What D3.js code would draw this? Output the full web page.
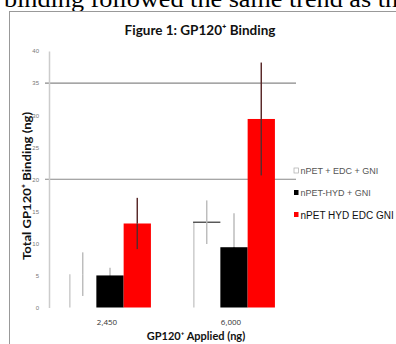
<!DOCTYPE html>
<html><head><meta charset="utf-8">
<script src="https://cdn.jsdelivr.net/npm/d3@7"></script>
<style>body{margin:0;background:#fff;overflow:hidden}svg{display:block}</style>
</head><body>
<svg id="c" width="396" height="344"></svg>
<script>
const categories = ["2,450", "6,000"];
const seriesNames = ["nPET + EDC + GNI", "nPET-HYD + GNI", "nPET HYD EDC GNI"];
const whiteVals = [5.2, 13.3];
const blackVals = [5.0, 9.4];
const redVals = [13.1, 29.4];
const whiteErr = [3.4, 3.4];
const blackErr = [1.2, 5.3];
const redErr = [4.0, 8.8];
const yTicks = [0, 5, 10, 15, 20, 25, 30, 35, 40];
const gridTicks = [20, 35];

const colors = ["#ffffff", "#000000", "#ff0000"];
const vals = [whiteVals, blackVals, redVals];
const errs = [whiteErr, blackErr, redErr];

const svg = d3.select("#c");
// cut-off text line from the page above the figure
svg.append("text").attr("x", 4).attr("y", 6.5)
  .attr("font-family", "Liberation Serif").attr("font-size", 24)
  .attr("textLength", 394).attr("lengthAdjust", "spacingAndGlyphs")
  .attr("fill", "#000").text("binding followed the same trend as th");
// figure border
svg.append("line").attr("x1", 9).attr("x2", 396).attr("y1", 11.5).attr("y2", 11.5).attr("stroke", "#999");
svg.append("line").attr("x1", 9.5).attr("x2", 9.5).attr("y1", 11).attr("y2", 344).attr("stroke", "#999");

svg.append("text").attr("x", 200).attr("y", 34.5).attr("text-anchor", "middle")
  .attr("font-family", "Lato").attr("font-weight", "bold").attr("font-size", 13.5)
  .attr("fill", "#111").text("Figure 1: GP120\u207A Binding");

const y = d3.scaleLinear().domain([0, 40]).range([307.5, 51]);
const x0 = d3.scaleBand().domain(categories).range([48, 296]).paddingInner(0.34).paddingOuter(0.17);
const x1 = d3.scaleBand().domain(d3.range(3)).range([0, x0.bandwidth()]);

// grid
svg.append("g").selectAll("line").data(gridTicks).join("line")
  .attr("x1", 45).attr("x2", 296).attr("y1", d => y(d)).attr("y2", d => y(d))
  .attr("stroke", "#888").attr("stroke-width", 1.2);

// y axis
const ya = svg.append("g").attr("transform", "translate(49,0)")
  .call(d3.axisLeft(y).tickValues(yTicks).tickSize(0).tickPadding(10));
ya.select(".domain").attr("stroke", "#ccc").attr("stroke-width", 1.5);
ya.selectAll("text").attr("font-family", "Liberation Sans").attr("font-size", 6).attr("fill", "#777");

// x axis labels
const xa = svg.append("g").attr("transform", "translate(0,307.5)")
  .call(d3.axisBottom(x0).tickSize(0).tickPadding(12));
xa.select(".domain").remove();
xa.selectAll("text").attr("font-family", "Open Sans").attr("font-size", 8).attr("fill", "#333").attr("dx", -3);

// bars
const groups = svg.append("g").selectAll("g").data(categories).join("g")
  .attr("transform", d => `translate(${x0(d)},0)`);
groups.each(function(cat, ci) {
  const g = d3.select(this);
  [0, 1, 2].forEach(si => {
    const v = vals[si][ci];
    g.append("rect").attr("x", x1(si)).attr("width", x1.bandwidth())
      .attr("y", y(v)).attr("height", y(0) - y(v)).attr("fill", colors[si]);
    if (si === 0) {
      g.append("line").attr("x1", x1(si) + 0.75).attr("x2", x1(si) + 0.75)
        .attr("y1", y(v)).attr("y2", y(0)).attr("stroke", "#ccc").attr("stroke-width", 1.5);
      if (ci === 1) g.append("line").attr("x1", x1(si)).attr("x2", x1(si) + x1.bandwidth())
        .attr("y1", y(v)).attr("y2", y(v)).attr("stroke", "#333").attr("stroke-width", 1.2);
    }
  });
  [0, 1, 2].forEach(si => {
    const v = vals[si][ci], e = errs[si][ci];
    const cx = x1(si) + x1.bandwidth() / 2;
    // upper half
    g.append("line").attr("x1", cx).attr("x2", cx).attr("y1", y(v + e)).attr("y2", y(v))
      .attr("stroke", si === 2 ? "#5a2a2a" : "#bdbdbd").attr("stroke-width", 1.5);
    // lower half (inside the bar)
    g.append("line").attr("x1", cx).attr("x2", cx).attr("y1", y(v)).attr("y2", y(v - e))
      .attr("stroke", si === 2 ? "#5a2a2a" : (si === 1 ? "#000" : "#bdbdbd")).attr("stroke-width", 1.5);
  });
});

// axis titles
svg.append("text").attr("transform", "translate(30.5,186) rotate(-90)").attr("text-anchor", "middle")
  .attr("font-family", "Lato").attr("font-weight", "bold").attr("font-size", 12).attr("fill", "#111")
  .attr("textLength", 148).attr("lengthAdjust", "spacingAndGlyphs")
  .text("Total GP120\u207A Binding (ng)");
svg.append("text").attr("x", 196).attr("y", 340).attr("text-anchor", "middle")
  .attr("font-family", "Lato").attr("font-weight", "bold").attr("font-size", 11).attr("fill", "#111")
  .text("GP120\u207A Applied (ng)");

// legend
const lg = svg.append("g").selectAll("g").data(seriesNames).join("g")
  .attr("transform", (d, i) => `translate(294,${171 + i * 22})`);
lg.append("rect").attr("x", 0).attr("y", -3).attr("width", 4.5).attr("height", 5)
  .attr("fill", (d, i) => colors[i]).attr("stroke", (d, i) => i === 0 ? "#aaa" : "none").attr("stroke-width", 0.7);
lg.append("text").attr("x", 6.5).attr("y", 0).attr("dy", "0.35em")
  .attr("font-family", "Liberation Sans").attr("font-size", (d, i) => i === 2 ? 10 : 9)
  .attr("fill", (d, i) => i === 2 ? "#111" : "#555").text(d => d);
</script>
</body></html>
